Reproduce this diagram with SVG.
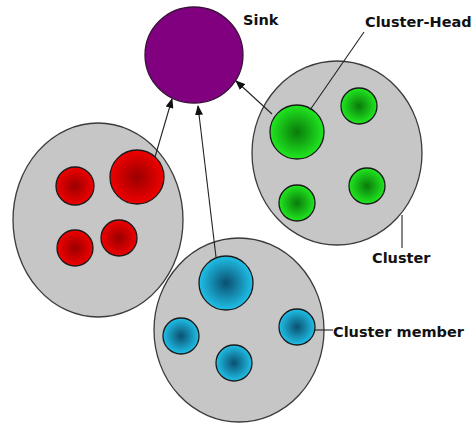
<svg xmlns="http://www.w3.org/2000/svg" width="474" height="426" viewBox="0 0 474 426">
<style>
.cl{fill:#c6c6c6;stroke:#3a3a3a;stroke-width:1.3}
.nd{stroke:#1a1a1a;stroke-width:1.3}
.lbl{font-family:"DejaVu Sans",sans-serif;font-weight:bold;font-size:14.5px;fill:#111}
.ar{stroke:#222;stroke-width:1.1;fill:none;marker-end:url(#ah)}
.ln{stroke:#222;stroke-width:1.1;fill:none}
</style>
<defs>
<marker id="ah" markerWidth="10" markerHeight="8" refX="9" refY="4" orient="auto" markerUnits="userSpaceOnUse">
<path d="M0,0 L10,4 L0,8 Z" fill="#111"/>
</marker>
<radialGradient id="gr"><stop offset="0" stop-color="#9a0000"/><stop offset="1" stop-color="#f00000"/></radialGradient>
<radialGradient id="gg"><stop offset="0" stop-color="#0a7a0a"/><stop offset="1" stop-color="#20e820"/></radialGradient>
<radialGradient id="gb"><stop offset="0" stop-color="#0a5070"/><stop offset="1" stop-color="#20c0e8"/></radialGradient>
</defs>
<g id="sink"><ellipse cx="194" cy="55" rx="49" ry="48" fill="#800080" stroke="#3a103a" stroke-width="1.3"/></g>
<g id="cluster-red">
<ellipse class="cl" cx="98" cy="220" rx="85" ry="97"/>
<circle class="nd" cx="137" cy="177" r="27" fill="url(#gr)"/>
<circle class="nd" cx="75" cy="186" r="19" fill="url(#gr)"/>
<circle class="nd" cx="75" cy="248" r="18" fill="url(#gr)"/>
<circle class="nd" cx="119" cy="238" r="18" fill="url(#gr)"/>
</g>
<g id="cluster-green">
<ellipse class="cl" cx="337" cy="153" rx="85" ry="92"/>
<circle class="nd" cx="297" cy="132" r="27" fill="url(#gg)"/>
<circle class="nd" cx="359" cy="106" r="18" fill="url(#gg)"/>
<circle class="nd" cx="367" cy="186" r="18" fill="url(#gg)"/>
<circle class="nd" cx="297" cy="203" r="18" fill="url(#gg)"/>
</g>
<g id="cluster-blue">
<ellipse class="cl" cx="239" cy="330" rx="85" ry="92"/>
<circle class="nd" cx="226" cy="283" r="27" fill="url(#gb)"/>
<circle class="nd" cx="181" cy="336" r="18" fill="url(#gb)"/>
<circle class="nd" cx="234" cy="363" r="18" fill="url(#gb)"/>
<circle class="nd" cx="297" cy="327" r="18" fill="url(#gb)"/>
</g>
<g id="connectors">
<line class="ar" x1="155" y1="157" x2="172" y2="99"/>
<line class="ar" x1="216" y1="257" x2="198" y2="106"/>
<line class="ar" x1="272" y1="114" x2="236" y2="81"/>
<line class="ln" x1="310" y1="110" x2="364" y2="32"/>
<line class="ln" x1="402" y1="215" x2="402" y2="248"/>
<line class="ln" x1="315" y1="330" x2="333" y2="330"/>
</g>
<g id="labels">
<text class="lbl" x="243" y="25">Sink</text>
<text class="lbl" x="365" y="27">Cluster-Head</text>
<text class="lbl" x="372" y="263">Cluster</text>
<text class="lbl" x="333" y="337">Cluster member</text>
</g>
</svg>
